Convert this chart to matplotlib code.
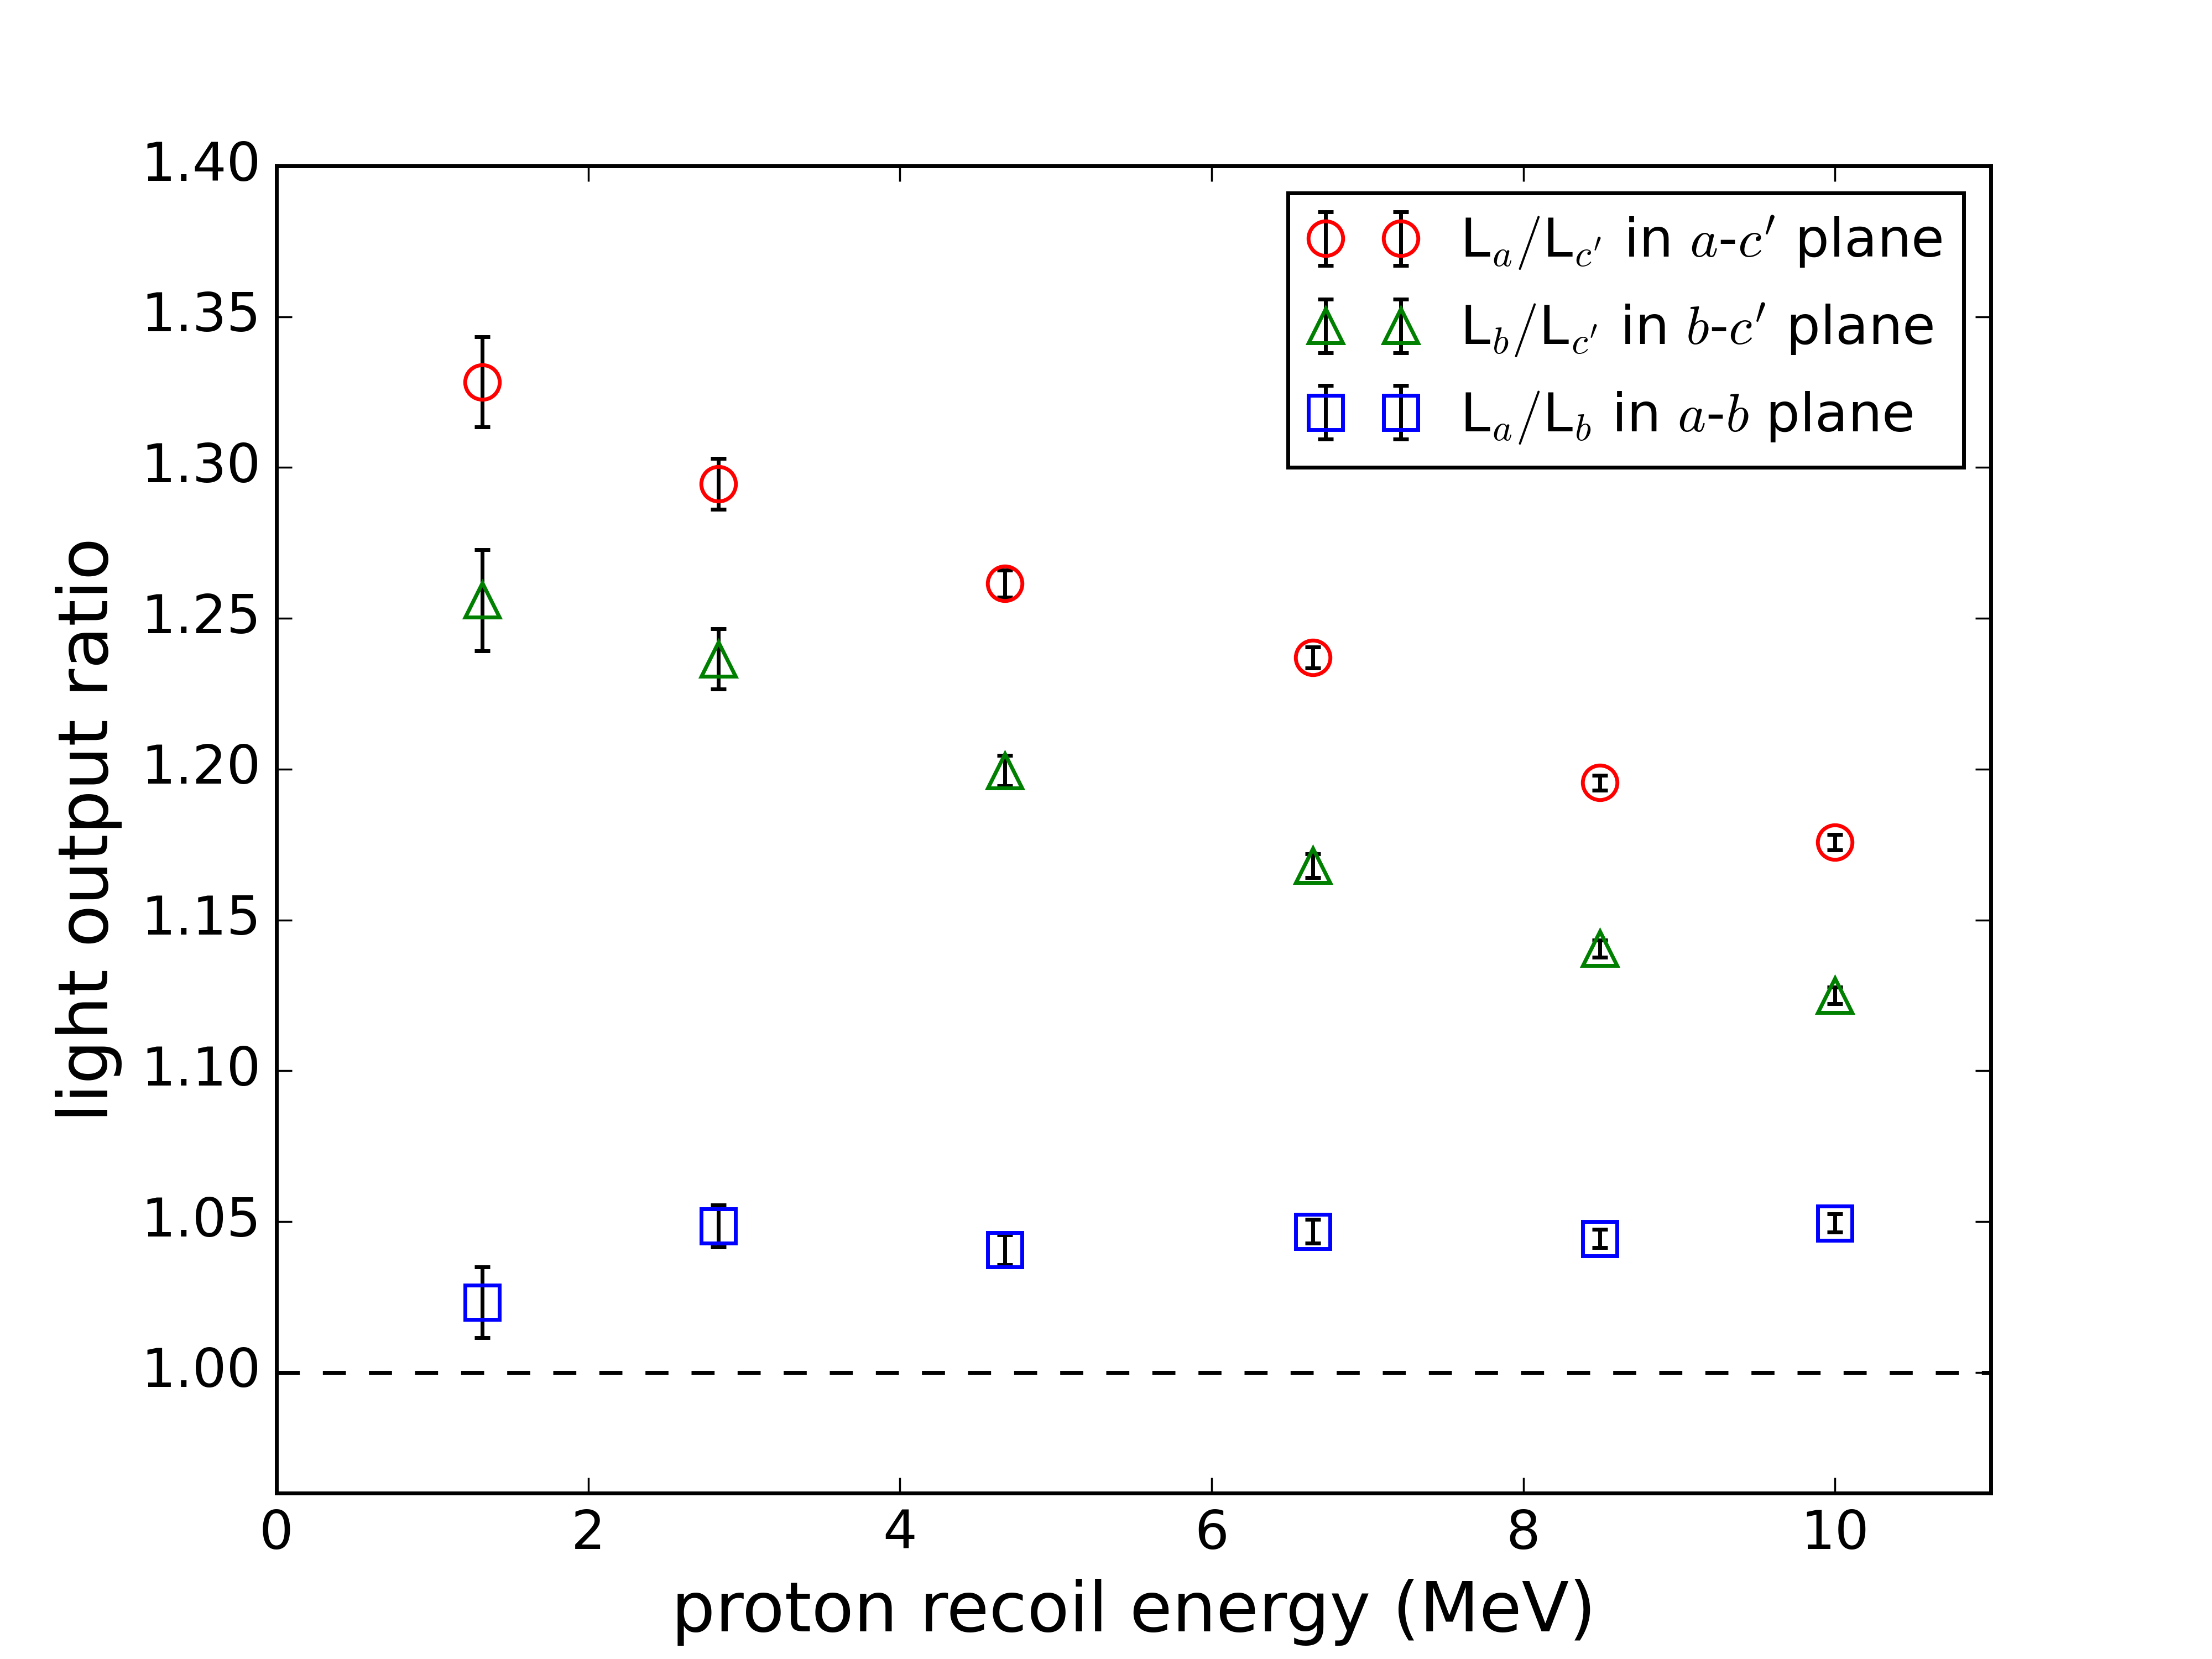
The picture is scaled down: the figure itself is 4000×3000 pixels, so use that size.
import matplotlib
matplotlib.use('Agg')
import matplotlib.pyplot as plt

plt.style.use('classic')

energy = [1.32, 2.835, 4.674, 6.65, 8.49, 10.0]

ratio_ac = [1.3284, 1.2946, 1.2615, 1.2370, 1.1955, 1.1758]
err_ac = [0.015, 0.0085, 0.0045, 0.0035, 0.0025, 0.0025]

ratio_bc = [1.2560, 1.2365, 1.1995, 1.1680, 1.1405, 1.1250]
err_bc = [0.0168, 0.0100, 0.0050, 0.0040, 0.0028, 0.0028]

ratio_ab = [1.0233, 1.0486, 1.0407, 1.0468, 1.0444, 1.0495]
err_ab = [0.0117, 0.0070, 0.0050, 0.0040, 0.0030, 0.0030]

labels = [r'L$_a/$L$_{c^\prime}$ in $a$-$c^\prime$ plane',
          r'L$_b/$L$_{c^\prime}$ in $b$-$c^\prime$ plane',
          r'L$_a/$L$_b$ in $a$-$b$ plane']

fig = plt.figure(figsize=(8, 6), dpi=500)
ax = fig.add_subplot(111)

styles = [('o', 'r'), ('^', 'g'), ('s', 'b')]
for (m, c), y, e, lab in zip(styles, [ratio_ac, ratio_bc, ratio_ab],
                             [err_ac, err_bc, err_ab], labels):
    ax.errorbar(energy, y, yerr=e, fmt=m, mfc='none', mec=c, mew=1.0,
                ms=9, ecolor='k', elinewidth=1.0, capsize=2, capthick=1.5,
                label=lab)

ax.axhline(1.0, color='k', ls='--', lw=1)

ax.set_xlim(0, 11)
ax.set_ylim(0.96, 1.40)
ax.set_xticks([0, 2, 4, 6, 8, 10])
ax.set_yticks([1.00, 1.05, 1.10, 1.15, 1.20, 1.25, 1.30, 1.35, 1.40])
ax.set_xlabel('proton recoil energy (MeV)', fontsize=18)
ax.set_ylabel('light output ratio', fontsize=18)
ax.tick_params(labelsize=14)
ax.legend(loc='upper right', numpoints=2, fontsize=14, labelspacing=0.56)

fig.savefig('out.png', dpi=500)
